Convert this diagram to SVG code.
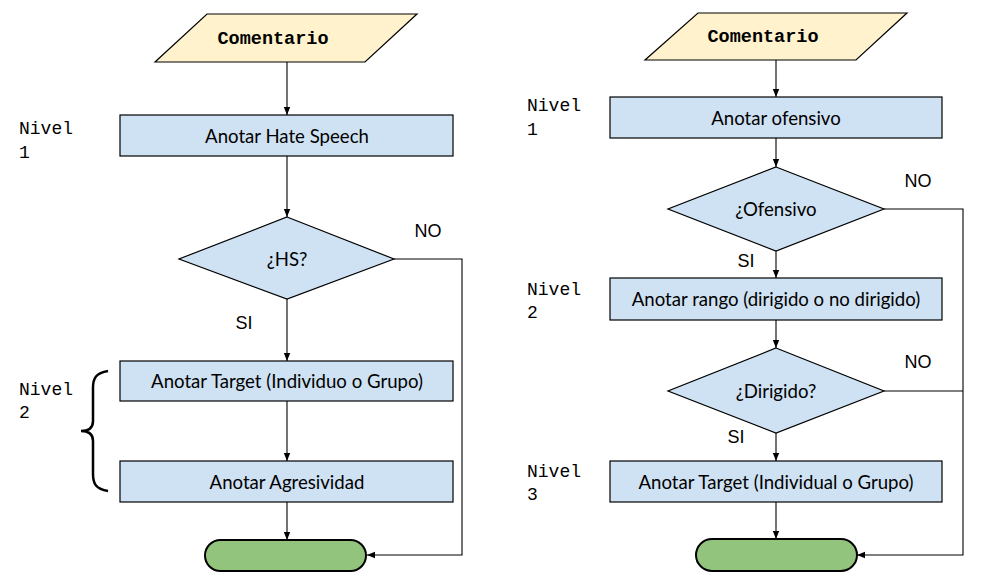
<svg xmlns="http://www.w3.org/2000/svg" width="996" height="585" viewBox="0 0 996 585">
<style>
.box{fill:#cfe2f3;stroke:#000;stroke-width:1.2}
.io{fill:#fff2cc;stroke:#000;stroke-width:1.2}
.term{fill:#93c47d;stroke:#000;stroke-width:2}
.t{font-family:Lato,"Liberation Sans",sans-serif;font-size:18.6px;fill:#000;text-anchor:middle;dominant-baseline:central}
.io-t{font-family:"Liberation Mono",monospace;font-size:18.5px;font-weight:bold;fill:#000;text-anchor:middle;dominant-baseline:central}
.lab{font-family:"Liberation Sans",Arial,sans-serif;font-size:18px;fill:#000;text-anchor:middle;dominant-baseline:central}
.niv{font-family:"Liberation Mono",monospace;font-size:18px;fill:#000}
.c{fill:none;stroke:#000;stroke-width:1.1}
</style>
<defs>
<marker id="ah" viewBox="0 0 10 10" refX="10" refY="5" markerWidth="8" markerHeight="8" markerUnits="userSpaceOnUse" orient="auto">
<path d="M0,1 L10,5 L0,9 z" fill="#000"/>
</marker>
</defs>

<g id="levels">
<text class="niv" x="19" y="134">Nivel</text>
<text class="niv" x="19" y="158">1</text>
<text class="niv" x="19" y="395">Nivel</text>
<text class="niv" x="19" y="418">2</text>
<path d="M108,371 C96,373 93,378 93,388 L93,421 C93,428 88,431 81,431 C88,431 93,434 93,441 L93,474 C93,484 96,489 108,491" fill="none" stroke="#000" stroke-width="2.5"/>
<text class="niv" x="527" y="111">Nivel</text>
<text class="niv" x="527" y="135">1</text>
<text class="niv" x="527" y="295">Nivel</text>
<text class="niv" x="527" y="318">2</text>
<text class="niv" x="527" y="477">Nivel</text>
<text class="niv" x="527" y="500">3</text>
</g>

<g id="connectors">
<line class="c" x1="287" y1="62" x2="287" y2="115" marker-end="url(#ah)"/>
<line class="c" x1="287" y1="156" x2="287" y2="217" marker-end="url(#ah)"/>
<line class="c" x1="287" y1="299" x2="287" y2="361" marker-end="url(#ah)"/>
<line class="c" x1="287" y1="401" x2="287" y2="461" marker-end="url(#ah)"/>
<line class="c" x1="287" y1="502" x2="287" y2="540" marker-end="url(#ah)"/>
<polyline class="c" points="394,259 462,259 462,555 367,555" marker-end="url(#ah)"/>
<text class="lab" x="428" y="231">NO</text>
<text class="lab" x="244" y="323">SI</text>

<line class="c" x1="776" y1="60" x2="776" y2="97" marker-end="url(#ah)"/>
<line class="c" x1="776" y1="138" x2="776" y2="167" marker-end="url(#ah)"/>
<line class="c" x1="776" y1="251" x2="776" y2="278" marker-end="url(#ah)"/>
<line class="c" x1="776" y1="320" x2="776" y2="348" marker-end="url(#ah)"/>
<line class="c" x1="776" y1="433" x2="776" y2="461" marker-end="url(#ah)"/>
<line class="c" x1="776" y1="502" x2="776" y2="539" marker-end="url(#ah)"/>
<polyline class="c" points="884,209 963,209 963,555 857,555" marker-end="url(#ah)"/>
<line class="c" x1="884" y1="391" x2="963" y2="391"/>
<text class="lab" x="918" y="181">NO</text>
<text class="lab" x="746" y="261">SI</text>
<text class="lab" x="918" y="362">NO</text>
<text class="lab" x="736" y="437">SI</text>
</g>

<g id="l-input">
<polygon class="io" points="207,14 417,14 365,62 155,62"/>
<text class="io-t" x="273" y="39">Comentario</text>
</g>
<g id="l-hate">
<rect class="box" x="120" y="115" width="333" height="41"/>
<text class="t" x="287" y="136">Anotar Hate Speech</text>
</g>
<g id="l-hs">
<polygon class="box" points="287,217 394,259 287,299 179,259"/>
<text class="t" x="287" y="259">¿HS?</text>
</g>
<g id="l-target">
<rect class="box" x="120" y="361" width="333" height="40"/>
<text class="t" x="287" y="381">Anotar Target (Individuo o Grupo)</text>
</g>
<g id="l-agres">
<rect class="box" x="120" y="461" width="333" height="41"/>
<text class="t" x="287" y="482">Anotar Agresividad</text>
</g>
<g id="l-end">
<rect class="term" x="205" y="540" width="161" height="31" rx="15.5"/>
</g>

<g id="r-input">
<polygon class="io" points="698,13 907,13 856,60 645,60"/>
<text class="io-t" x="763" y="37">Comentario</text>
</g>
<g id="r-ofen">
<rect class="box" x="610" y="97" width="332" height="41"/>
<text class="t" x="776" y="118">Anotar ofensivo</text>
</g>
<g id="r-q1">
<polygon class="box" points="776,167 884,209 776,251 668,209"/>
<text class="t" x="776" y="209">¿Ofensivo</text>
</g>
<g id="r-rango">
<rect class="box" x="610" y="278" width="332" height="42"/>
<text class="t" x="776" y="299">Anotar rango (dirigido o no dirigido)</text>
</g>
<g id="r-q2">
<polygon class="box" points="776,348 884,391 776,433 668,391"/>
<text class="t" x="776" y="391">¿Dirigido?</text>
</g>
<g id="r-target">
<rect class="box" x="610" y="461" width="332" height="41"/>
<text class="t" x="776" y="482">Anotar Target (Individual o Grupo)</text>
</g>
<g id="r-end">
<rect class="term" x="696" y="539" width="161" height="32" rx="16"/>
</g>
</svg>
